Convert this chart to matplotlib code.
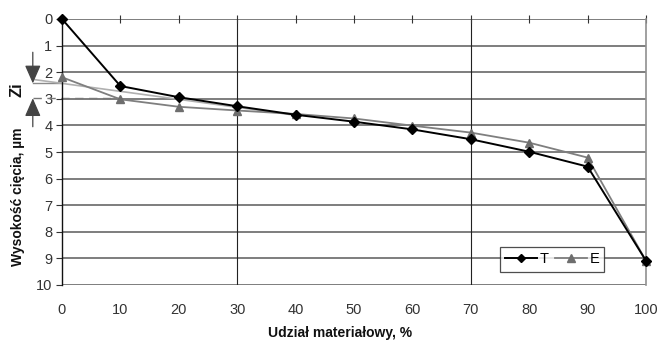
import matplotlib
matplotlib.use('Agg')
import matplotlib.pyplot as plt

plt.rcParams['font.family'] = ['Liberation Sans', 'DejaVu Sans']

udzial = [0, 10, 20, 30, 40, 50, 60, 70, 80, 90, 100]
wys_T = [0.0, 2.52, 2.94, 3.28, 3.6, 3.86, 4.15, 4.52, 4.99, 5.55, 9.09]
wys_E = [2.19, 3.02, 3.3, 3.44, 3.57, 3.74, 4.01, 4.27, 4.65, 5.21, 9.09]

# linie pomocnicze (rdzen profilu i poziom Zi)
linia_x = [-5, 40]
linia_y = [2.27, 3.62]
zi_gora = 2.42
zi_dol = 2.98

fig = plt.figure(figsize=(6.58, 3.42), dpi=100)
ax = fig.add_axes([62/658, 1-285/342, 584/658, 266/342])

ax.set_xlim(0, 100)
ax.set_ylim(10, 0)
ax.set_xticks(range(0, 101, 10))
ax.set_yticks(range(0, 11))

for y in range(0, 11):
    ax.axhline(y, color='#5a5a5a', lw=1.1, zorder=1)
ax.axvline(30, color='#222222', lw=0.8, zorder=1)
ax.axvline(70, color='#222222', lw=0.8, zorder=1)

for s in ['top', 'bottom']:
    ax.spines[s].set_visible(False)
ax.spines['right'].set_color('#909090')
ax.spines['right'].set_linewidth(1.2)
ax.spines['left'].set_color('#111111')
ax.spines['left'].set_linewidth(1.0)

ax.tick_params(axis='x', top=True, bottom=False, labelbottom=True,
               direction='inout', length=6, width=0.8, color='#333333',
               labelsize=10.5, labelcolor='#333333', pad=10)
ax.tick_params(axis='y', direction='out', length=4, width=0.8,
               color='#333333', labelsize=10.5, labelcolor='#333333', pad=3)

# linie pomocnicze
ax.plot([-5, 0], [zi_gora, zi_gora], color='#8a8a8a', lw=1.0, clip_on=False)
ax.plot(linia_x, linia_y, color='#b0b0b0', lw=1.2, clip_on=False, zorder=2)
ax.plot([-5, 10], [zi_dol, zi_dol], color='#777777', lw=1.0, ls=(0, (6, 4)),
        clip_on=False, zorder=2)

ax.annotate('', xy=(-5, zi_gora), xytext=(-5, 1.25), annotation_clip=False,
            arrowprops=dict(arrowstyle='-|>,head_length=0.8,head_width=0.35',
                            color='#444444', lw=0.9,
                            mutation_scale=14, shrinkA=0, shrinkB=0))
ax.annotate('', xy=(-5, zi_dol), xytext=(-5, 4.05), annotation_clip=False,
            arrowprops=dict(arrowstyle='-|>,head_length=0.8,head_width=0.35',
                            color='#444444', lw=0.9,
                            mutation_scale=14, shrinkA=0, shrinkB=0))

ax.plot(udzial, wys_E, color='#7f7f7f', lw=1.3, marker='^', markersize=6,
        markerfacecolor='#6e6e6e', markeredgecolor='#6e6e6e', label='E',
        zorder=3, clip_on=False)
ax.plot(udzial, wys_T, color='#000000', lw=1.4, marker='D', markersize=5,
        label='T', zorder=4, clip_on=False)

h, l = ax.get_legend_handles_labels()
leg = ax.legend(h[::-1], l[::-1], ncol=2, loc='center',
                bbox_to_anchor=(0.839, 0.096), frameon=True, fancybox=False,
                edgecolor='#222222', fontsize=10.5, handlelength=2.2,
                columnspacing=0.4, handletextpad=0.2, borderpad=0.35,
                markerscale=0.9)
leg.get_frame().set_linewidth(0.9)
leg.set_zorder(5)

fig.text(340/658, 1-333/342, 'Udział materiałowy, %', ha='center',
         va='center', fontsize=10, fontweight='bold', color='#111111')
fig.text(18/658, 1-197/342, 'Wysokość cięcia, µm', ha='center',
         va='center', rotation=90, fontsize=10, fontweight='bold',
         color='#111111')
fig.text(17/658, 1-90/342, 'Zi', ha='center', va='center', rotation=90,
         fontsize=12, fontweight='bold', color='#111111')

fig.savefig('out.png', dpi=100)
